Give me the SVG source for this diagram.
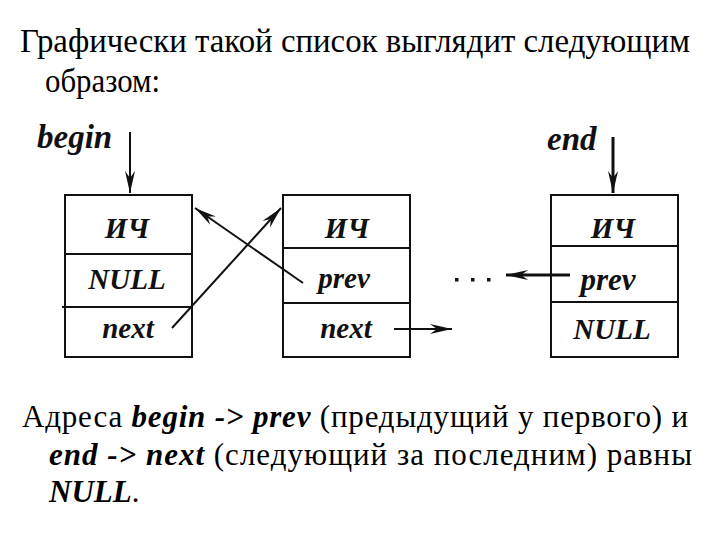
<svg xmlns="http://www.w3.org/2000/svg" width="720" height="540" viewBox="0 0 720 540" font-family="'Liberation Serif', 'Times New Roman', serif">
  <defs>
    <style>
      text { font-family: "Liberation Serif", "Times New Roman", serif; }
      .body { font-size: 31px; fill: #000; }
      .head { font-size: 33px; fill: #000; }
      .bi { font-weight: bold; font-style: italic; }
      .cell { font-size: 29px; font-weight: bold; font-style: italic; fill: #111; text-anchor: middle; }
      .lbl { font-size: 33px; font-weight: bold; font-style: italic; fill: #111; }
      .box { fill: #fff; stroke: #111; stroke-width: 2; }
      .div { stroke: #111; stroke-width: 2; }
      .conn { stroke: #111; stroke-width: 2; fill: none; }
      .thick { stroke-width: 3; }
    </style>
    <marker id="arr" viewBox="-24 -7 26 14" markerWidth="26" markerHeight="14" refX="0" refY="0" orient="auto" markerUnits="userSpaceOnUse">
      <path d="M0,0 L-22,-5 L-15,0 L-22,5 Z" fill="#111"/>
    </marker>
  </defs>

  <rect width="720" height="540" fill="#fff"/>

  <g id="text-top">
    <text class="head" x="20" y="52" textLength="670" lengthAdjust="spacingAndGlyphs">Графически такой список выглядит следующим</text>
    <text class="head" x="45" y="92" textLength="115" lengthAdjust="spacingAndGlyphs">образом:</text>
  </g>

  <g id="label-begin">
    <text class="lbl" x="37" y="148">begin</text>
  </g>
  <g id="label-end">
    <text class="lbl" x="547" y="150">end</text>
  </g>

  <g id="node-first">
    <rect class="box" x="65" y="195" width="127" height="162"/>
    <line class="div" x1="65" y1="254" x2="192" y2="254"/>
    <line class="div" x1="62" y1="307" x2="192" y2="307"/>
    <text class="cell" x="127" y="238">ИЧ</text>
    <text class="cell" x="127" y="289">NULL</text>
    <text class="cell" x="128" y="338">next</text>
  </g>

  <g id="node-second">
    <rect class="box" x="283" y="195" width="127" height="162"/>
    <line class="div" x1="283" y1="248" x2="410" y2="248"/>
    <line class="div" x1="283" y1="303" x2="410" y2="303"/>
    <text class="cell" x="347" y="238">ИЧ</text>
    <text class="cell" x="344" y="288">prev</text>
    <text class="cell" x="346" y="338">next</text>
  </g>

  <g id="node-ellipsis">
    <rect x="455" y="278" width="3.5" height="3.5" fill="#111"/>
    <rect x="471" y="278" width="3.5" height="3.5" fill="#111"/>
    <rect x="487" y="278" width="3.5" height="3.5" fill="#111"/>
  </g>

  <g id="node-last">
    <rect class="box" x="551" y="195" width="127" height="162"/>
    <line class="div" x1="551" y1="246" x2="678" y2="246"/>
    <line class="div" x1="551" y1="302" x2="678" y2="302"/>
    <text class="cell" x="613" y="238">ИЧ</text>
    <text class="cell" x="608" y="290" style="font-size:31px">prev</text>
    <text class="cell" x="612" y="339">NULL</text>
  </g>

  <g id="connectors">
    <line class="conn" x1="130" y1="132" x2="130" y2="193" marker-end="url(#arr)"/>
    <line class="conn thick" x1="613" y1="137" x2="613" y2="193" marker-end="url(#arr)"/>
    <line class="conn" x1="303" y1="283" x2="195" y2="208" marker-end="url(#arr)"/>
    <line class="conn" x1="172" y1="328" x2="281" y2="208" marker-end="url(#arr)"/>
    <line class="conn" x1="394" y1="329" x2="452" y2="329" marker-end="url(#arr)"/>
    <line class="conn thick" x1="570" y1="275" x2="506" y2="275" marker-end="url(#arr)"/>
  </g>

  <g id="text-bottom">
    <text class="body" x="22" y="427" textLength="666" lengthAdjust="spacing">Адреса <tspan class="bi">begin -&gt; prev</tspan> (предыдущий у первого) и</text>
    <text class="body" x="49" y="465" textLength="643" lengthAdjust="spacing"><tspan class="bi">end -&gt; next</tspan> (следующий за последним) равны</text>
    <text class="body" x="49" y="502"><tspan class="bi">NULL</tspan>.</text>
  </g>
</svg>
